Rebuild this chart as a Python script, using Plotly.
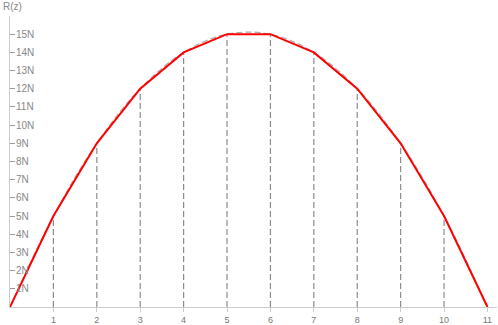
import plotly.graph_objects as go

z = [0, 1, 2, 3, 4, 5, 6, 7, 8, 9, 10, 11]
r = [0, 5, 9, 12, 14, 15, 15, 14, 12, 9, 5, 0]
y_ticks = list(range(1, 16))
y_labels = ['{}N'.format(v) for v in y_ticks]
x_ticks = list(range(1, 12))

fig = go.Figure()

# vertical dashed drops at each inner point
vx, vy = [], []
for a, b in zip(z[1:-1], r[1:-1]):
    vx += [a, a, None]
    vy += [0, b, None]
fig.add_trace(go.Scatter(x=vx, y=vy, mode='lines',
                         line=dict(color='#8c8c8c', width=1.2, dash='6px,3px'),
                         hoverinfo='skip'))

# smooth dashed curve
fig.add_trace(go.Scatter(x=z, y=r, mode='lines', line_shape='spline',
                         line=dict(color='#aaaaaa', width=1.2, dash='6px,3px'),
                         hoverinfo='skip'))

fig.add_trace(go.Scatter(x=z, y=r, mode='lines',
                         line=dict(color='#ff0000', width=2)))

fig.update_layout(
    width=498, height=325,
    margin=dict(l=10, r=1, t=16, b=18),
    showlegend=False,
    plot_bgcolor='white', paper_bgcolor='white',
    font=dict(family='Liberation Sans, Arial', size=10, color='#888888'),
)
fig.update_xaxes(range=[0, 11.22], tickvals=x_ticks, showgrid=False, zeroline=False,
                 automargin=False,
                 showline=True, linecolor='#cccccc', linewidth=1,
                 ticks='outside', ticklen=4, tickcolor='#cccccc',
                 tickfont=dict(size=9, color='#777777'))
fig.update_yaxes(range=[0, 16], tickvals=y_ticks, ticktext=y_labels,
                 showgrid=False, zeroline=False, automargin=False,
                 showline=True, linecolor='#cccccc', linewidth=1,
                 ticks='inside', ticklen=5, tickcolor='#999999',
                 ticklabelposition='inside', ticklabelstandoff=0,
                 tickfont=dict(size=10, color='#888888'))
fig.add_annotation(text='R(z)', xref='paper', yref='paper', x=0, y=1,
                   xshift=-9, yshift=10, xanchor='left', yanchor='middle',
                   showarrow=False, font=dict(size=10, color='#888888'))

# page has a default body margin; drop it so the figure sits at the corner
fig.write_html("out.html", config={'displayModeBar': False},
               post_script="document.body.style.margin='0';")
